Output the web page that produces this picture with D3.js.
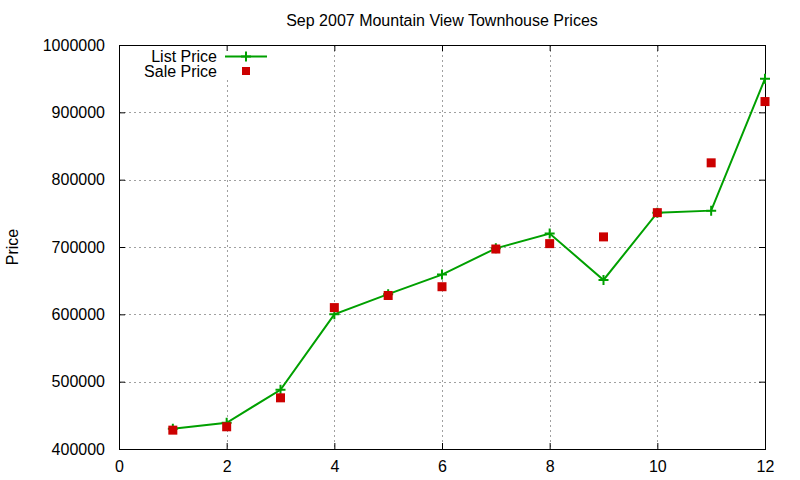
<!DOCTYPE html>
<html>
<head>
<meta charset="utf-8">
<script src="https://cdn.jsdelivr.net/npm/d3@7"></script>
<style>
  body { margin: 0; background: #fff; }
  text { font-family: "Liberation Sans", Arial, sans-serif; fill: #000; }
</style>
</head>
<body>
<div id="chart"></div>
<script>
var months = [1, 2, 3, 4, 5, 6, 7, 8, 9, 10, 11, 12];
var listPrice = [430000, 439000, 488000, 600000, 630000, 659000, 698000, 720000, 651000, 751000, 754000, 950000];
var salePrice = [428000, 433000, 476000, 610000, 628000, 641000, 697000, 705000, 715000, 751000, 825000, 916000];
var xTicks = [0, 2, 4, 6, 8, 10, 12];
var yTicks = [400000, 500000, 600000, 700000, 800000, 900000, 1000000];

var width = 800, height = 480,
    plotL = 119, plotR = 765, plotT = 45, plotB = 449;

var svg = d3.select("#chart").append("svg")
  .attr("width", width)
  .attr("height", height);

var x = d3.scaleLinear().domain([0, 12]).range([plotL, plotR]);
var y = d3.scaleLinear().domain([400000, 1000000]).range([plotB, plotT]);

// grid
var grid = svg.append("g")
  .attr("stroke", "#a0a0a0")
  .attr("stroke-dasharray", "2,3")
  .attr("stroke-width", 1);
grid.selectAll("line.gx")
  .data(xTicks.filter(function(d){ return d > 0 && d < 12; }))
  .enter().append("line")
  .attr("x1", function(d){ return Math.round(x(d)) + 0.5; })
  .attr("x2", function(d){ return Math.round(x(d)) + 0.5; })
  .attr("y1", plotT).attr("y2", plotB)
  .each(function(d){
    // gnuplot leaves the grid out behind the key
    if (d == 2) d3.select(this).attr("y1", 80);
  });
grid.selectAll("line.gy")
  .data(yTicks.filter(function(d){ return d > 400000 && d < 1000000; }))
  .enter().append("line")
  .attr("x1", plotL).attr("x2", plotR)
  .attr("y1", function(d){ return Math.round(y(d)) + 0.5; })
  .attr("y2", function(d){ return Math.round(y(d)) + 0.5; });

// axes with mirrored inward ticks
var fmt = d3.format("d");
svg.append("g")
  .attr("transform", "translate(0," + plotB + ")")
  .call(d3.axisBottom(x).tickValues(xTicks).tickSize(-6).tickPadding(12).tickFormat(fmt))
  .call(function(g){ g.select(".domain").remove(); });
svg.append("g")
  .attr("transform", "translate(0," + plotT + ")")
  .call(d3.axisTop(x).tickValues(xTicks).tickSize(-6).tickFormat(""))
  .call(function(g){ g.select(".domain").remove(); });
svg.append("g")
  .attr("transform", "translate(" + plotL + ",0)")
  .call(d3.axisLeft(y).tickValues(yTicks).tickSize(-6).tickPadding(14).tickFormat(fmt))
  .call(function(g){ g.select(".domain").remove(); });
svg.append("g")
  .attr("transform", "translate(" + plotR + ",0)")
  .call(d3.axisRight(y).tickValues(yTicks).tickSize(-6).tickFormat(""))
  .call(function(g){ g.select(".domain").remove(); });
svg.selectAll(".tick text")
  .attr("font-size", 16)
  .attr("font-family", "Liberation Sans, Arial, sans-serif")
  .attr("fill", "#000");
svg.selectAll(".tick line").attr("stroke", "#000");

svg.append("rect")
  .attr("x", plotL + 0.5).attr("y", plotT + 0.5)
  .attr("width", plotR - plotL).attr("height", plotB - plotT)
  .attr("fill", "none").attr("stroke", "#000").attr("stroke-width", 1);

// title and label
svg.append("text")
  .attr("x", (plotL + plotR) / 2).attr("y", 26)
  .attr("text-anchor", "middle")
  .attr("font-size", 16)
  .text("Sep 2007 Mountain View Townhouse Prices");
svg.append("text")
  .attr("transform", "translate(18," + ((plotT + plotB) / 2) + ") rotate(-90)")
  .attr("text-anchor", "middle")
  .attr("font-size", 16)
  .text("Price");

var green = "#00a000", red = "#cc0000";

// list price line
var line = d3.line()
  .x(function(d, i){ return x(months[i]); })
  .y(function(d){ return y(d); });
svg.append("path")
  .datum(listPrice)
  .attr("d", line)
  .attr("fill", "none")
  .attr("stroke", green)
  .attr("stroke-width", 2);

function plus(g, cx, cy) {
  g.append("path")
    .attr("d", "M" + (cx - 5) + "," + cy + "H" + (cx + 5) + "M" + cx + "," + (cy - 5) + "V" + (cy + 5))
    .attr("stroke", green).attr("stroke-width", 2);
}
var pts = svg.append("g");
listPrice.forEach(function(d, i){ plus(pts, x(months[i]), y(d)); });

// sale price squares
svg.selectAll("rect.sale")
  .data(salePrice)
  .enter().append("rect")
  .attr("class", "sale")
  .attr("x", function(d, i){ return x(months[i]) - 4.5; })
  .attr("y", function(d){ return y(d) - 4.5; })
  .attr("width", 9).attr("height", 9)
  .attr("fill", red);

// key
var key = svg.append("g");
key.append("text").attr("x", 217).attr("y", 62).attr("text-anchor", "end")
  .attr("font-size", 16).text("List Price");
key.append("line").attr("x1", 225).attr("x2", 267).attr("y1", 56.5).attr("y2", 56.5)
  .attr("stroke", green).attr("stroke-width", 2);
plus(key, 246, 56.5);
key.append("text").attr("x", 217).attr("y", 77).attr("text-anchor", "end")
  .attr("font-size", 16).text("Sale Price");
key.append("rect").attr("x", 242).attr("y", 67).attr("width", 8).attr("height", 8).attr("fill", red);
</script>
</body>
</html>
